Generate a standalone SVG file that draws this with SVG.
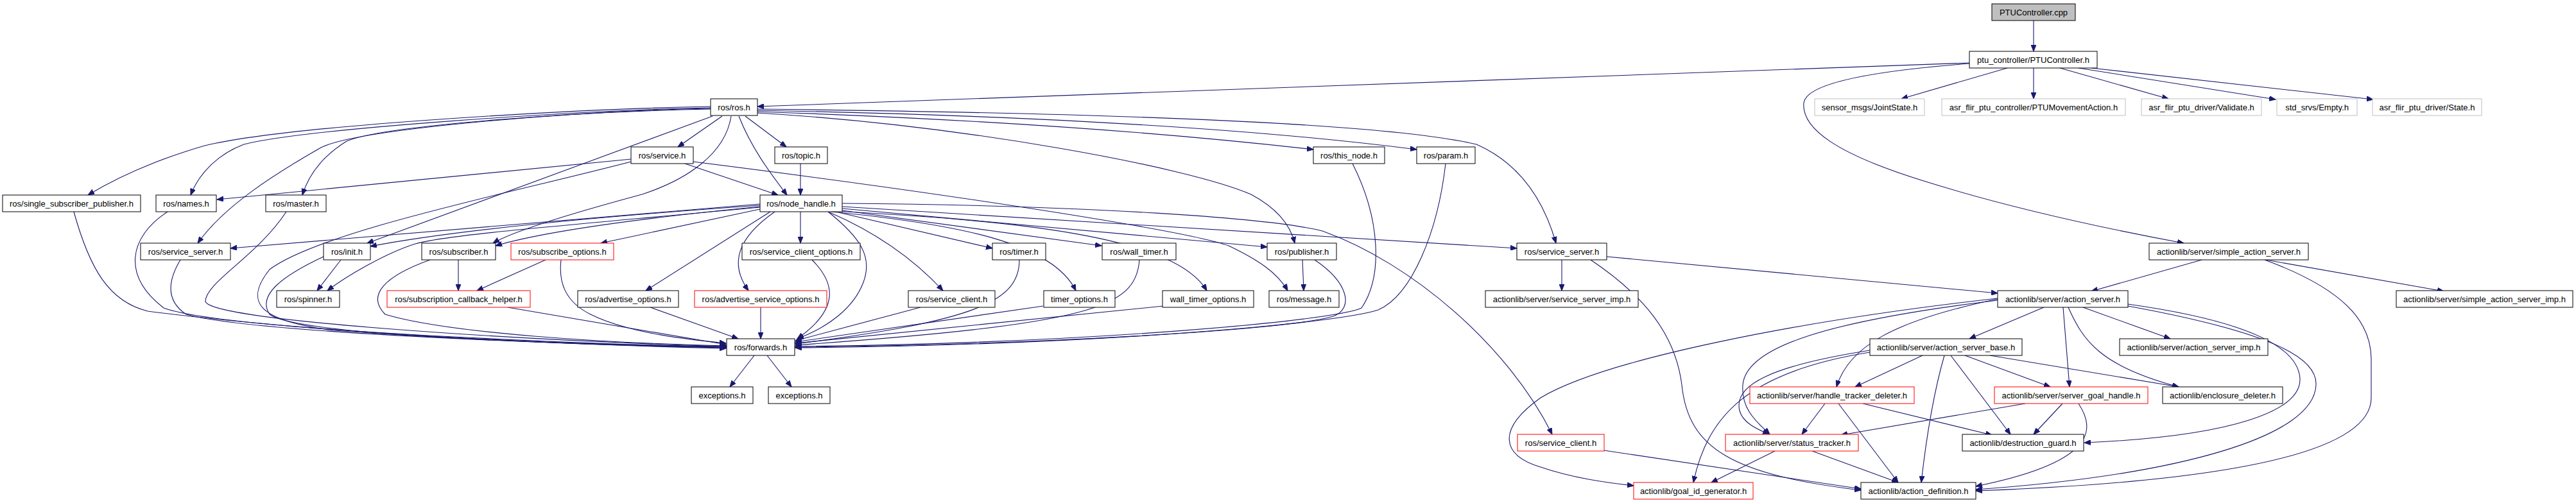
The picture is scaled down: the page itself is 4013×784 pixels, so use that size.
<svg xmlns="http://www.w3.org/2000/svg" width="4013" height="784" viewBox="0 0 4013 784">
<style>
.n rect{fill:#fff;stroke:#000;stroke-width:1}
.n.red rect{stroke:#ff0000}
.n.gray rect{stroke:#bfbfbf}
.n.root rect{fill:#bfbfbf}
.n text{font-family:"Liberation Sans",Arial,sans-serif;font-size:13px;text-anchor:middle;fill:#000}
#edges path{fill:none;stroke:#191970;stroke-width:1.1;marker-end:url(#ah)}
</style>
<defs>
<marker id="ah" markerUnits="userSpaceOnUse" markerWidth="11" markerHeight="8" refX="10" refY="4" orient="auto">
<path d="M0,0 L10,4 L0,8 z" fill="#191970" stroke="#191970"/>
</marker>
</defs>
<rect width="4013" height="784" fill="#fff"/>
<g id="edges">
<path d="M3168,32 L3168,80"/>
<path d="M3068,98 L1180,166"/>
<path d="M3127,106 L2962,154"/>
<path d="M3168,106 L3168,154"/>
<path d="M3209,106 L3378,154"/>
<path d="M3238,106 L3545,155"/>
<path d="M3258,106 L3697,155"/>
<path d="M3068,99 C2950,108 2815,125 2810,160 C2806,200 2860,240 3000,283 C3150,330 3300,360 3402,379"/>
<path d="M1107,166 C900,170 450,195 319,227 C240,250 185,275 137,304"/>
<path d="M1107,168 C900,172 480,200 380,225 C340,240 310,270 297,304"/>
<path d="M1107,170 C900,174 600,195 540,220 C500,245 480,275 471,304"/>
<path d="M1107,169 C900,173 560,200 500,230 C430,270 350,320 308,379"/>
<path d="M1110,181 L572,379"/>
<path d="M1125,181 L1056,229"/>
<path d="M1139,181 C1130,240 1070,280 1000,303 C900,330 800,360 768,379"/>
<path d="M1151,181 C1170,230 1200,270 1226,304"/>
<path d="M1161,181 L1225,229"/>
<path d="M1180,174 C1500,185 1800,205 2046,233"/>
<path d="M1180,172 C1600,180 1950,200 2207,233"/>
<path d="M1180,170 C1700,176 2150,190 2300,225 C2380,260 2410,330 2424,379"/>
<path d="M1180,176 C1500,195 1850,260 1949,303 C1990,325 2010,350 2017,379"/>
<path d="M1247,255 L1247,304"/>
<path d="M1067,255 L1212,304"/>
<path d="M983,248 L338,311"/>
<path d="M983,252 C800,300 500,360 420,420 C380,470 400,500 520,515 C800,535 1000,540 1132,541"/>
<path d="M1080,252 C1500,305 1850,360 1914,383 C1960,405 1990,425 2006,453"/>
<path d="M1184,318 L359,387"/>
<path d="M1184,320 C900,340 700,360 577,384"/>
<path d="M1184,322 C1000,340 850,360 772,383"/>
<path d="M1184,326 L936,379"/>
<path d="M1184,323 C900,350 700,365 647,380 C600,395 540,430 510,453"/>
<path d="M1200,330 L1006,453"/>
<path d="M1207,330 C1150,370 1135,410 1166,453"/>
<path d="M1247,330 L1247,379"/>
<path d="M1290,330 C1340,370 1360,400 1345,440 C1330,480 1290,510 1242,528"/>
<path d="M1290,330 C1360,360 1420,400 1469,453"/>
<path d="M1306,331 L1546,387"/>
<path d="M1295,330 C1500,350 1640,380 1676,453"/>
<path d="M1312,328 L1716,383"/>
<path d="M1302,329 C1600,345 1830,370 1880,453"/>
<path d="M1312,325 L1974,385"/>
<path d="M1312,322 L2363,387"/>
<path d="M1312,317 C1700,320 1980,340 2060,360 C2200,410 2350,540 2418,677"/>
<path d="M531,405 L494,453"/>
<path d="M504,400 C440,430 400,460 420,490 C460,520 800,535 1132,540"/>
<path d="M714,405 L714,453"/>
<path d="M670,405 C600,430 570,460 600,490 C700,520 950,535 1132,539"/>
<path d="M850,405 L743,453"/>
<path d="M874,405 C870,440 880,470 920,490 C980,520 1080,530 1131,535"/>
<path d="M791,479 L1131,537"/>
<path d="M115,330 C140,420 170,470 230,485 C500,520 900,538 1131,543"/>
<path d="M261,330 C200,370 190,430 255,480 C350,515 900,535 1131,542"/>
<path d="M446,330 C400,400 320,440 320,470 C330,500 800,530 1131,540"/>
<path d="M281,405 C260,440 260,470 290,490 C400,520 900,537 1131,542"/>
<path d="M1013,479 L1150,528"/>
<path d="M1185,479 L1185,528"/>
<path d="M1265,405 C1300,440 1310,480 1242,528"/>
<path d="M1434,479 L1239,531"/>
<path d="M1588,405 C1588,470 1520,500 1239,536"/>
<path d="M1625,477 L1239,533"/>
<path d="M1775,405 C1770,480 1700,505 1239,538"/>
<path d="M1812,477 L1239,535"/>
<path d="M2029,405 L2031,453"/>
<path d="M2048,405 C2100,440 2110,480 2077,493 C2000,515 1600,538 1239,541"/>
<path d="M2107,255 C2150,340 2155,430 2121,480 C2080,500 1700,535 1239,540"/>
<path d="M2252,255 C2240,360 2200,460 2147,483 C2080,505 1700,538 1239,542"/>
<path d="M1175,554 L1137,603"/>
<path d="M1195,554 L1233,603"/>
<path d="M2433,405 L2433,453"/>
<path d="M2503,400 L3112,457"/>
<path d="M2478,405 C2560,460 2610,520 2620,600 C2630,700 2700,740 2899,764"/>
<path d="M2499,702 L2899,762"/>
<path d="M3184,479 L3068,528"/>
<path d="M3214,479 L3224,603"/>
<path d="M3245,479 L3381,528"/>
<path d="M3222,479 C3245,530 3270,570 3394,603"/>
<path d="M3315,474 C3500,500 3580,540 3583,590 C3585,640 3480,680 3247,690"/>
<path d="M3315,477 C3550,520 3610,560 3608,600 C3605,680 3400,740 3078,763"/>
<path d="M3112,466 C2950,500 2880,540 2861,603"/>
<path d="M3112,468 C2850,500 2720,540 2715,600 C2712,640 2740,660 2757,677"/>
<path d="M3112,465 C2800,500 2500,560 2400,620 C2330,670 2340,710 2400,728 C2450,745 2500,752 2545,757"/>
<path d="M2995,554 L2890,603"/>
<path d="M2913,546 C2760,570 2700,600 2710,640 C2715,660 2740,670 2756,677"/>
<path d="M2913,549 C2720,580 2660,650 2638,752"/>
<path d="M3061,554 L3194,603"/>
<path d="M3100,554 L3394,603"/>
<path d="M3039,554 L3132,677"/>
<path d="M3029,554 C3010,620 3000,690 2993,752"/>
<path d="M2843,629 L2807,677"/>
<path d="M2864,629 L2957,752"/>
<path d="M2902,629 L3103,678"/>
<path d="M3155,629 L2868,678"/>
<path d="M3213,629 L3168,677"/>
<path d="M3238,629 C3265,670 3265,720 3078,758"/>
<path d="M2765,703 L2666,752"/>
<path d="M2823,703 L2957,752"/>
<path d="M3430,405 L3258,454"/>
<path d="M3530,405 L3807,454"/>
<path d="M3528,405 C3650,450 3694,500 3694,560 L3694,620 C3694,700 3500,750 3078,765"/>
</g>
<g id="n0" class="n root"><rect x="3103" y="6" width="130" height="26"/><text x="3168" y="23.5">PTUController.cpp</text></g>
<g id="n1" class="n"><rect x="3068" y="80" width="199" height="26"/><text x="3167.5" y="97.5">ptu_controller/PTUController.h</text></g>
<g id="n2" class="n"><rect x="1107" y="154" width="73" height="26"/><text x="1143.5" y="171.5">ros/ros.h</text></g>
<g id="n3" class="n gray"><rect x="2827" y="154" width="171" height="26"/><text x="2912.5" y="171.5">sensor_msgs/JointState.h</text></g>
<g id="n4" class="n gray"><rect x="3025" y="154" width="286" height="26"/><text x="3168" y="171.5">asr_flir_ptu_controller/PTUMovementAction.h</text></g>
<g id="n5" class="n gray"><rect x="3336" y="154" width="187" height="26"/><text x="3429.5" y="171.5">asr_flir_ptu_driver/Validate.h</text></g>
<g id="n6" class="n gray"><rect x="3547" y="154" width="125" height="26"/><text x="3609.5" y="171.5">std_srvs/Empty.h</text></g>
<g id="n7" class="n gray"><rect x="3696" y="154" width="170" height="26"/><text x="3781" y="171.5">asr_flir_ptu_driver/State.h</text></g>
<g id="n8" class="n"><rect x="983" y="229" width="97" height="26"/><text x="1031.5" y="246.5">ros/service.h</text></g>
<g id="n9" class="n"><rect x="1207" y="229" width="82" height="26"/><text x="1248" y="246.5">ros/topic.h</text></g>
<g id="n10" class="n"><rect x="2046" y="229" width="111" height="26"/><text x="2101.5" y="246.5">ros/this_node.h</text></g>
<g id="n11" class="n"><rect x="2207" y="229" width="91" height="26"/><text x="2252.5" y="246.5">ros/param.h</text></g>
<g id="n12" class="n"><rect x="4" y="304" width="215" height="26"/><text x="111.5" y="321.5">ros/single_subscriber_publisher.h</text></g>
<g id="n13" class="n"><rect x="243" y="304" width="94" height="26"/><text x="290" y="321.5">ros/names.h</text></g>
<g id="n14" class="n"><rect x="414" y="304" width="94" height="26"/><text x="461" y="321.5">ros/master.h</text></g>
<g id="n15" class="n"><rect x="1184" y="304" width="128" height="26"/><text x="1248" y="321.5">ros/node_handle.h</text></g>
<g id="n16" class="n"><rect x="3348" y="379" width="248" height="26"/><text x="3472" y="396.5">actionlib/server/simple_action_server.h</text></g>
<g id="n17" class="n"><rect x="219" y="379" width="140" height="26"/><text x="289" y="396.5">ros/service_server.h</text></g>
<g id="n18" class="n"><rect x="504" y="379" width="73" height="26"/><text x="540.5" y="396.5">ros/init.h</text></g>
<g id="n19" class="n"><rect x="657" y="379" width="115" height="26"/><text x="714.5" y="396.5">ros/subscriber.h</text></g>
<g id="n20" class="n red"><rect x="796" y="379" width="160" height="26"/><text x="876" y="396.5">ros/subscribe_options.h</text></g>
<g id="n21" class="n"><rect x="1156" y="379" width="184" height="26"/><text x="1248" y="396.5">ros/service_client_options.h</text></g>
<g id="n22" class="n"><rect x="1546" y="379" width="83" height="26"/><text x="1587.5" y="396.5">ros/timer.h</text></g>
<g id="n23" class="n"><rect x="1717" y="379" width="115" height="26"/><text x="1774.5" y="396.5">ros/wall_timer.h</text></g>
<g id="n24" class="n"><rect x="1974" y="379" width="108" height="26"/><text x="2028" y="396.5">ros/publisher.h</text></g>
<g id="n25" class="n"><rect x="2363" y="379" width="140" height="26"/><text x="2433" y="396.5">ros/service_server.h</text></g>
<g id="n26" class="n"><rect x="431" y="453" width="98" height="26"/><text x="480" y="470.5">ros/spinner.h</text></g>
<g id="n27" class="n red"><rect x="603" y="453" width="223" height="26"/><text x="714.5" y="470.5">ros/subscription_callback_helper.h</text></g>
<g id="n28" class="n"><rect x="900" y="453" width="157" height="26"/><text x="978.5" y="470.5">ros/advertise_options.h</text></g>
<g id="n29" class="n red"><rect x="1082" y="453" width="206" height="26"/><text x="1185" y="470.5">ros/advertise_service_options.h</text></g>
<g id="n30" class="n"><rect x="1415" y="453" width="135" height="26"/><text x="1482.5" y="470.5">ros/service_client.h</text></g>
<g id="n31" class="n"><rect x="1626" y="453" width="111" height="26"/><text x="1681.5" y="470.5">timer_options.h</text></g>
<g id="n32" class="n"><rect x="1811" y="453" width="142" height="26"/><text x="1882" y="470.5">wall_timer_options.h</text></g>
<g id="n33" class="n"><rect x="1977" y="453" width="109" height="26"/><text x="2031.5" y="470.5">ros/message.h</text></g>
<g id="n34" class="n"><rect x="2314" y="453" width="238" height="26"/><text x="2433" y="470.5">actionlib/server/service_server_imp.h</text></g>
<g id="n35" class="n"><rect x="3112" y="453" width="203" height="26"/><text x="3213.5" y="470.5">actionlib/server/action_server.h</text></g>
<g id="n36" class="n"><rect x="3733" y="453" width="275" height="26"/><text x="3870.5" y="470.5">actionlib/server/simple_action_server_imp.h</text></g>
<g id="n37" class="n"><rect x="1132" y="528" width="106" height="26"/><text x="1185" y="545.5">ros/forwards.h</text></g>
<g id="n38" class="n"><rect x="2913" y="528" width="237" height="26"/><text x="3031.5" y="545.5">actionlib/server/action_server_base.h</text></g>
<g id="n39" class="n"><rect x="3302" y="528" width="231" height="26"/><text x="3417.5" y="545.5">actionlib/server/action_server_imp.h</text></g>
<g id="n40" class="n"><rect x="1077" y="603" width="96" height="26"/><text x="1125" y="620.5">exceptions.h</text></g>
<g id="n41" class="n"><rect x="1197" y="603" width="96" height="26"/><text x="1245" y="620.5">exceptions.h</text></g>
<g id="n42" class="n red"><rect x="2726" y="603" width="256" height="26"/><text x="2854" y="620.5">actionlib/server/handle_tracker_deleter.h</text></g>
<g id="n43" class="n red"><rect x="3107" y="603" width="239" height="26"/><text x="3226.5" y="620.5">actionlib/server/server_goal_handle.h</text></g>
<g id="n44" class="n"><rect x="3369" y="603" width="187" height="26"/><text x="3462.5" y="620.5">actionlib/enclosure_deleter.h</text></g>
<g id="n45" class="n red"><rect x="2364" y="677" width="135" height="26"/><text x="2431.5" y="694.5">ros/service_client.h</text></g>
<g id="n46" class="n red"><rect x="2688" y="677" width="207" height="26"/><text x="2791.5" y="694.5">actionlib/server/status_tracker.h</text></g>
<g id="n47" class="n"><rect x="3057" y="677" width="189" height="26"/><text x="3151.5" y="694.5">actionlib/destruction_guard.h</text></g>
<g id="n48" class="n red"><rect x="2545" y="752" width="186" height="26"/><text x="2638" y="769.5">actionlib/goal_id_generator.h</text></g>
<g id="n49" class="n"><rect x="2899" y="752" width="179" height="26"/><text x="2988.5" y="769.5">actionlib/action_definition.h</text></g>
</svg>
